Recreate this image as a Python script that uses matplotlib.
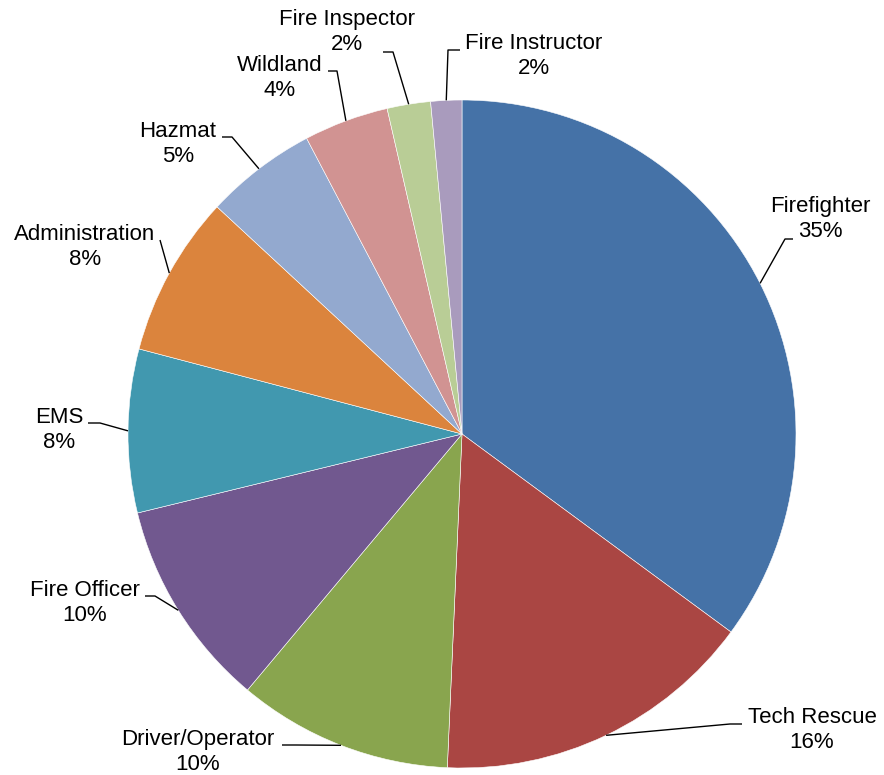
import numpy as np
import matplotlib
matplotlib.use("Agg")
import matplotlib.pyplot as plt

plt.rcParams['font.family'] = ['Liberation Sans', 'DejaVu Sans']

# share of members by certification / role (percent)
roles = ['Firefighter', 'Tech Rescue', 'Driver/Operator', 'Fire Officer', 'EMS',
         'Administration', 'Hazmat', 'Wildland', 'Fire Inspector', 'Fire Instructor']
shares = [35.1, 15.6, 10.4, 10.1, 7.9, 7.8, 5.4, 4.1, 2.1, 1.5]
colors = ['#4572A7', '#AA4643', '#89A54E', '#71588F', '#4198AF',
          '#DB843D', '#93A9CF', '#D19392', '#B9CD96', '#A99BBD']

# label placement in figure pixels: text centre, leader start at label, elbow
label_pos = [(820, 219), (812, 730), (198, 752), (85, 603), (59, 430),
             (85, 247), (178, 144), (280, 78), (347, 32), (534, 56)]
leader_start = [(793, 239), (742, 724), (282, 745), (145, 596), (88, 423),
                (160, 240), (222, 137), (328, 71), (383, 52), (460, 50)]
leader_elbow = [(785, 239), (730, 724), (296, 745), (155, 596), (100, 423),
                (160, 240), (232, 137), (337, 71), (393, 52), (448, 50)]

W, H = 884, 775
cx, cy, R = 462, 434, 334

fig = plt.figure(figsize=(W / 100, H / 100), dpi=100)
ax = fig.add_axes([0, 0, 1, 1])

# y axis runs downward, so counterclock=True draws clockwise on screen
wedges, _ = ax.pie(shares, colors=colors, startangle=-90, counterclock=True,
                   center=(cx, cy), radius=R,
                   wedgeprops=dict(edgecolor='white', linewidth=0.4))

ax.set_xlim(0, W)
ax.set_ylim(H, 0)
ax.set_aspect('equal')
ax.axis('off')

for w, name, val, (tx, ty), s, e in zip(wedges, roles, shares, label_pos,
                                        leader_start, leader_elbow):
    mid = np.deg2rad((w.theta1 + w.theta2) / 2)
    ax_pt = (cx + R * np.cos(mid), cy + R * np.sin(mid))
    ax.plot([s[0], e[0], ax_pt[0]], [s[1], e[1], ax_pt[1]],
            color='black', lw=1.0, solid_capstyle='butt', zorder=3)
    ax.text(tx, ty, f'{name}\n{val:.0f}%', ha='center', va='center',
            fontsize=16, linespacing=1.3, color='black')

fig.savefig('out.png', dpi=100)
